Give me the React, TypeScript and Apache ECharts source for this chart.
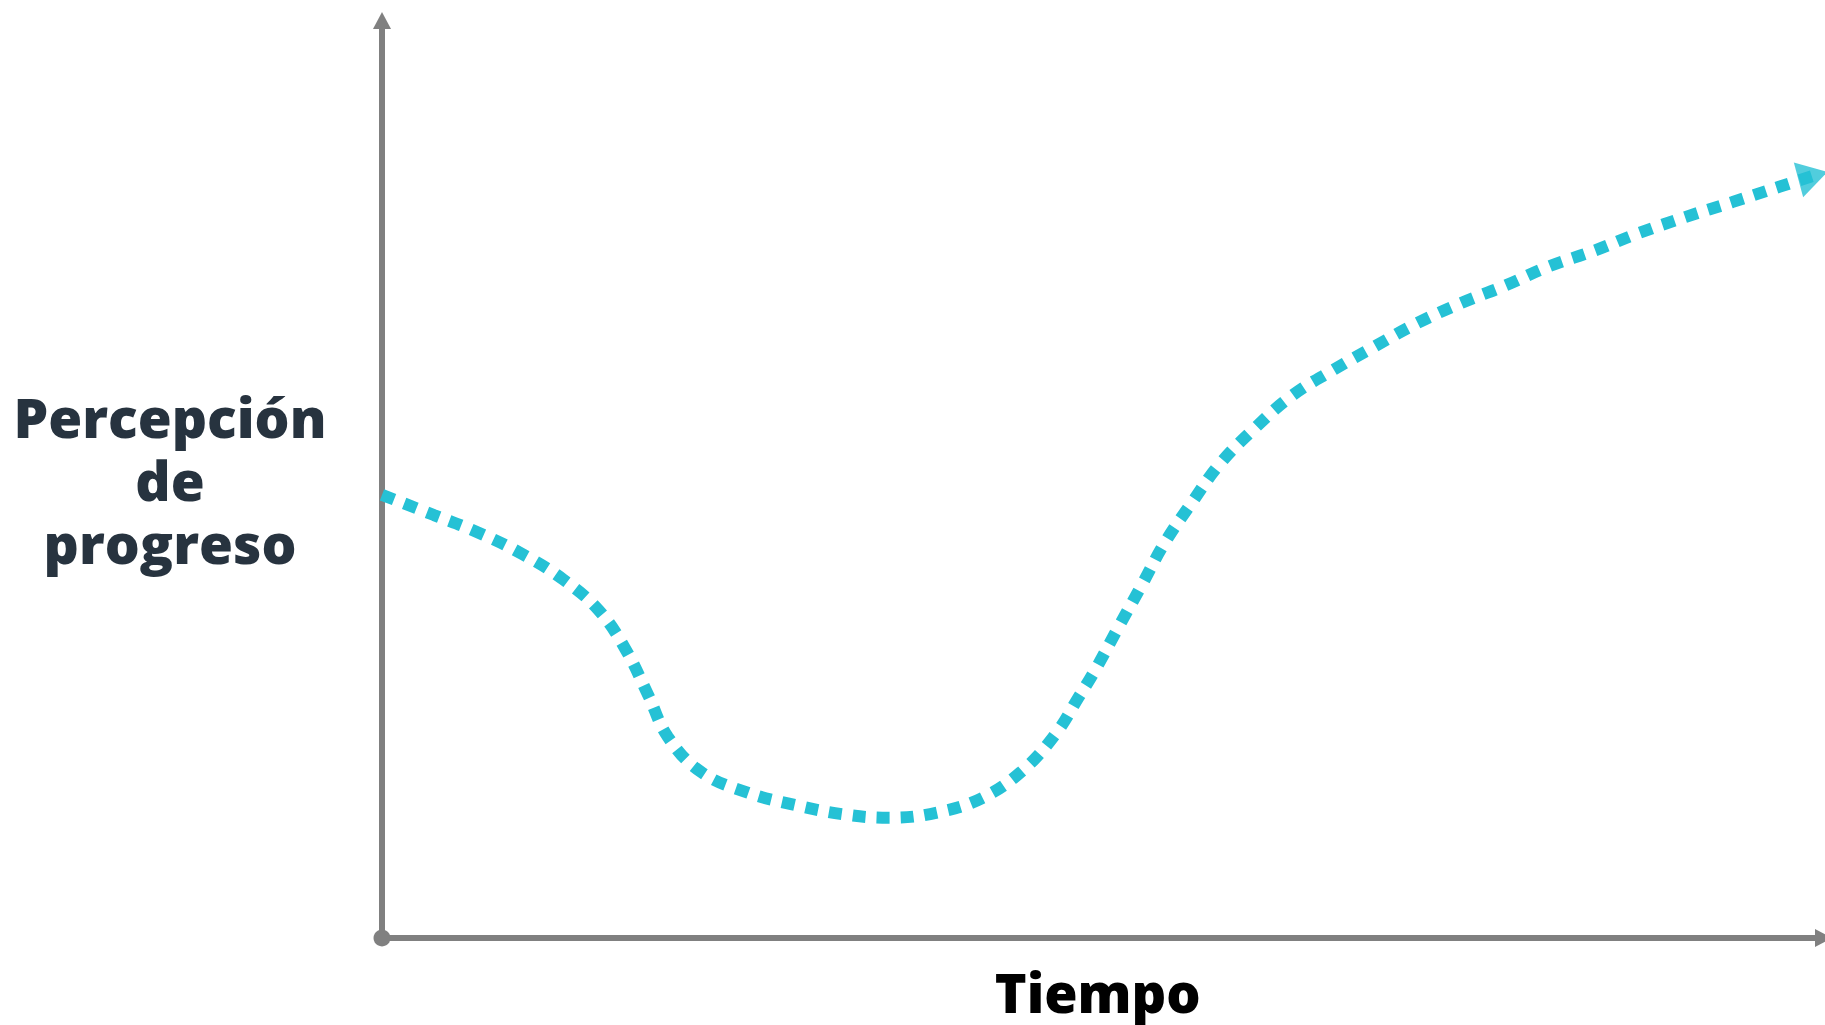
import React, { useEffect, useRef } from "react";
import * as echarts from "echarts";

// Time (x) and perceived progress (y), both on a 0–100 scale
const timeValues = [
  0, 3.6, 6.66, 9.79, 12.55, 15.05, 16.92, 18.46, 19.84, 22.13, 25.26, 28.65,
  31.92, 35.17, 38.58, 41.69, 44.47, 46.76, 48.35, 49.47, 51.06, 52.72, 54.31,
  56.2, 58.14, 60.57, 63.12, 65.97, 68.89, 71.8, 74.85, 77.91, 80.95, 84.08,
  87.14, 90.46, 93.66, 96.98, 99.27,
];
const progressValues = [
  48.3, 46.1, 44.2, 41.8, 39.1, 35.7, 31.4, 26.5, 21.9, 18.1, 15.9, 14.5, 13.5,
  13.1, 13.7, 15.3, 18.3, 22.3, 26.3, 29.2, 33.8, 38.5, 43.1, 47.5, 51.7, 55.6,
  59.1, 61.9, 64.5, 67.0, 69.2, 71.1, 73.2, 74.9, 76.8, 78.6, 80.2, 81.9, 83.06,
];
const arrowPoint = [99.27, 83.06];

const xName = "Tiempo";
const yName = "Percepción\nde\nprogreso";

const LINE_COLOR = "#25c1d5";
const AXIS_COLOR = "#808080";

export default function App() {
  const ref = useRef<HTMLDivElement>(null);

  useEffect(() => {
    if (!ref.current) return;
    const chart = echarts.init(ref.current, undefined, { renderer: "svg" });
    const lineData = timeValues.map((t, i) => [t, progressValues[i]]);
    chart.setOption({
      animation: false,
      backgroundColor: "#ffffff",
      grid: { left: 382, right: 1.5, top: 20.5, bottom: 83, containLabel: false },
      xAxis: {
        type: "value",
        min: 0,
        max: 100,
        name: xName,
        nameLocation: "middle",
        nameGap: 26,
        nameTextStyle: {
          fontFamily: "Open Sans",
          fontWeight: 800,
          fontSize: 54,
          lineHeight: 56,
          color: "#000000",
          padding: [0, 10, 0, 0],
        },
        axisLine: {
          show: true,
          symbol: ["circle", "triangle"],
          symbolSize: [18, 17],
          lineStyle: { color: AXIS_COLOR, width: 6 },
        },
        axisTick: { show: false },
        axisLabel: { show: false },
        splitLine: { show: false },
      },
      yAxis: {
        type: "value",
        min: 0,
        max: 100,
        name: yName,
        nameLocation: "middle",
        nameRotate: 0,
        nameGap: 212,
        nameTextStyle: {
          fontFamily: "Open Sans",
          fontWeight: 800,
          fontSize: 55,
          lineHeight: 63,
          color: "#27333f",
          align: "center",
          padding: [0, 0, 18, 0],
        },
        axisLine: {
          show: true,
          symbol: ["none", "triangle"],
          symbolSize: [18, 17],
          lineStyle: { color: AXIS_COLOR, width: 6 },
        },
        axisTick: { show: false },
        axisLabel: { show: false },
        splitLine: { show: false },
      },
      series: [
        {
          type: "line",
          data: lineData,
          smooth: 0.4,
          symbol: "none",
          lineStyle: {
            color: LINE_COLOR,
            width: 12,
            type: [13, 11],
            cap: "butt",
          },
          z: 2,
        },
        {
          type: "scatter",
          data: [arrowPoint],
          symbol: "triangle",
          symbolSize: [36, 30],
          symbolRotate: -75,
          itemStyle: { color: LINE_COLOR },
          z: 3,
        },
      ],
    });
    return () => chart.dispose();
  }, []);

  return (
    <div
      ref={ref}
      style={{
        position: "fixed",
        left: 0,
        top: 0,
        width: 1825,
        height: 1025,
        background: "#ffffff",
      }}
    />
  );
}
